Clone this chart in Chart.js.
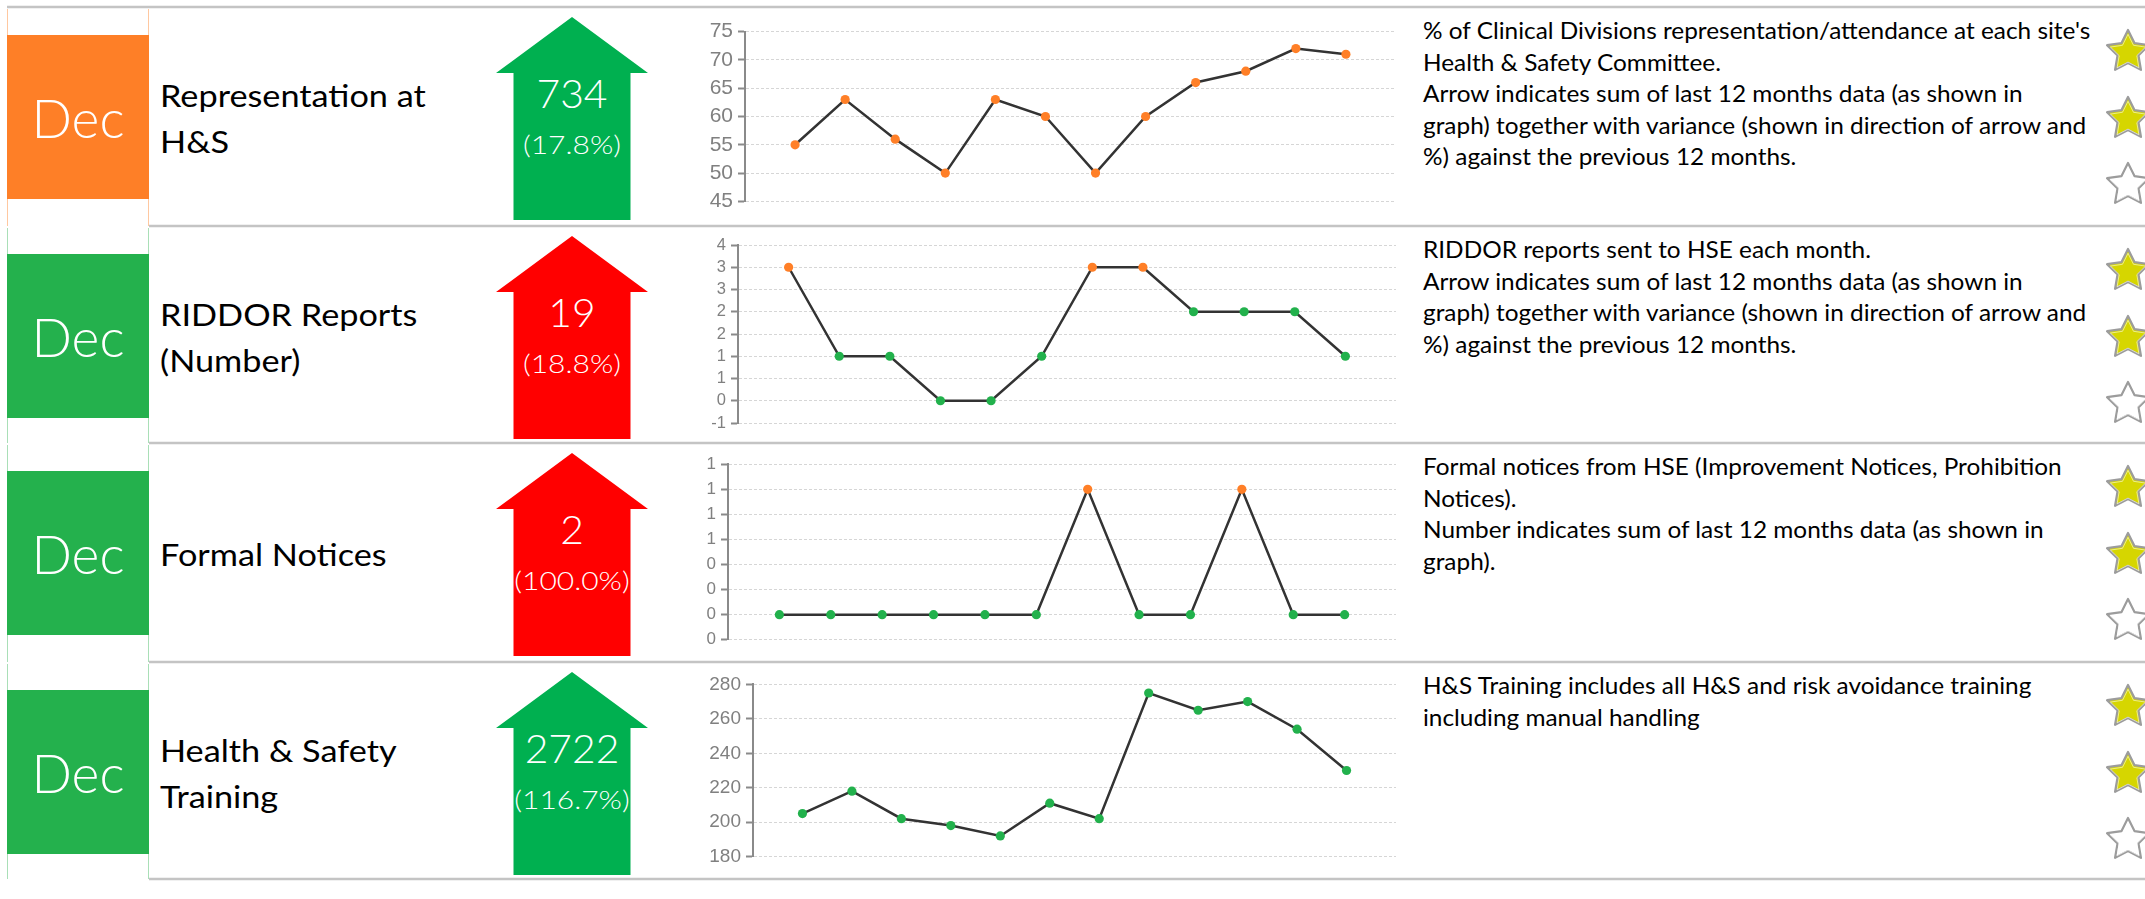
<!DOCTYPE html>
<html>
<head>
<meta charset="utf-8">
<title>H&amp;S KPI dashboard</title>
<script src="https://cdn.jsdelivr.net/npm/chart.js@4.4.1/dist/chart.umd.min.js"></script>
<style>
  html, body { margin: 0; padding: 0; background: #ffffff; }
  #board { position: relative; width: 2145px; height: 899px; overflow: hidden; background: #ffffff; }
  #board svg { position: absolute; left: 0; top: 0; }
  #board canvas { position: absolute; }
</style>
</head>
<body>
<div id="board"><svg id="deco" width="2145" height="899" xmlns="http://www.w3.org/2000/svg"></svg></div>
<script>
// ---------------- data ----------------
const months = ['Jan', 'Feb', 'Mar', 'Apr', 'May', 'Jun', 'Jul', 'Aug', 'Sep', 'Oct', 'Nov', 'Dec'];
const reportMonth = 'Dec';

const kpiTitles = [
  ['Representation at', 'H&S'],
  ['RIDDOR Reports', '(Number)'],
  ['Formal Notices'],
  ['Health & Safety', 'Training']
];

// monthly values, last 12 months
const representation = [55, 63, 56, 50, 63, 60, 50, 60, 66, 68, 72, 71];
const riddorReports  = [3, 1, 1, 0, 0, 1, 3, 3, 2, 2, 2, 1];
const formalNotices  = [0, 0, 0, 0, 0, 0, 1, 0, 0, 1, 0, 0];
const hsTraining     = [205, 218, 202, 198, 192, 211, 202, 275, 265, 270, 254, 230];

// variance of the 12-month total against the previous 12 months (%)
const variancePct = [17.8, 18.8, 100.0, 116.7];
const higherIsBetter = [true, false, false, true];
const monthStatus = ['amber', 'green', 'green', 'green'];
const starRatings = [2, 2, 2, 2];

// y axis ranges
const yMin  = [45, -0.5, -0.2, 180];
const yMax  = [75, 3.5, 1.2, 280];
const yStep = [5, 0.5, 0.2, 20];

const notes = [
  ["% of Clinical Divisions representation/attendance at each site's",
   'Health & Safety Committee.',
   'Arrow indicates sum of last 12 months data (as shown in',
   'graph) together with variance (shown in direction of arrow and',
   '%) against the previous 12 months.'],
  ['RIDDOR reports sent to HSE each month.',
   'Arrow indicates sum of last 12 months data (as shown in',
   'graph) together with variance (shown in direction of arrow and',
   '%) against the previous 12 months.'],
  ['Formal notices from HSE (Improvement Notices, Prohibition',
   'Notices).',
   'Number indicates sum of last 12 months data (as shown in',
   'graph).'],
  ['H&S Training includes all H&S and risk avoidance training',
   'including manual handling']
];

// ---------------- styling / layout ----------------
const series = [representation, riddorReports, formalNotices, hsTraining];
const amberRule = [v => true, v => v >= 3, v => v >= 1, v => false];

const COLORS = {
  amberBox: '#fe7f27', greenBox: '#24b14d',
  amberEdge: '#ffc8a0', greenEdge: '#a9dfb7',
  amberPt: '#ff7f27', greenPt: '#22b14c',
  arrowGood: '#00b050', arrowBad: '#ff0000',
  rule: '#c4c4c4', axis: '#8a8a8a', tickText: '#808080', grid: '#d6d6d6', line: '#333333',
  starFill: '#d6d600', starEdge: '#9c9c9c'
};

const rowLines = [7, 226, 443, 662, 879];
const plot = [
  { axisX: 745, top: 29,  bottom: 204, font: 'Liberation Sans', size: 21 },
  { axisX: 738, top: 245, bottom: 423, font: 'Liberation Sans', size: 16.5 },
  { axisX: 728, top: 464, bottom: 640, font: 'Liberation Sans', size: 17 },
  { axisX: 753, top: 683, bottom: 858, font: 'Liberation Sans', size: 19 }
];
const CHART_LEFT = 680, PLOT_RIGHT = 1396, PAD_V = 15, PAD_R = 10;

// ---------------- helpers ----------------
const svgNS = 'http://www.w3.org/2000/svg';
const deco = document.getElementById('deco');
function el(tag, attrs, text) {
  const e = document.createElementNS(svgNS, tag);
  for (const k in attrs) e.setAttribute(k, attrs[k]);
  if (text !== undefined) e.textContent = text;
  deco.appendChild(e);
  return e;
}
const mctx = document.createElement('canvas').getContext('2d');
function widthOf(text, font) { mctx.font = font; return mctx.measureText(text).width; }
function sum(a) { return a.reduce((s, v) => s + v, 0); }

// Lato is wider than the Calibri face the dashboard was built with; condense each text style
const FONT = 'Lato';
const kTitle = 266 / widthOf(kpiTitles[0][0], '31px ' + FONT);
const kNote  = 668 / widthOf(notes[0][0], '22.5px ' + FONT);
const kDec   = 93  / widthOf(reportMonth, '300 53px ' + FONT);
const kNum   = 71  / widthOf(String(sum(representation)), '300 39px ' + FONT);
const kPct   = 98  / widthOf('(' + variancePct[0].toFixed(1) + '%)', '300 25px ' + FONT);

function text(str, x, y, k, size, opts) {
  opts = opts || {};
  el('text', {
    transform: `translate(${x} ${y}) scale(${k} 1)`,
    'font-family': FONT, 'font-size': size, 'font-weight': opts.weight || 400,
    fill: opts.fill || '#000000', 'text-anchor': opts.anchor || 'start'
  }, str);
}

function starPoints(cx, cy, R, r) {
  const p = [];
  for (let i = 0; i < 10; i++) {
    const a = -Math.PI / 2 + i * Math.PI / 5;
    const rad = i % 2 ? r : R;
    p.push((cx + rad * Math.cos(a)).toFixed(2) + ',' + (cy + rad * Math.sin(a)).toFixed(2));
  }
  return p.join(' ');
}

function wholeNumber(v) {
  const n = Math.sign(v) * Math.round(Math.abs(v) + 1e-9);
  return String(n === 0 ? 0 : n);
}

function drawTrend(r) {
  const p = plot[r];
  const values = series[r];
  const cv = document.createElement('canvas');
  const w = PLOT_RIGHT + PAD_R - CHART_LEFT;
  const h = p.bottom - p.top + 2 * PAD_V;
  cv.width = w; cv.height = h;
  cv.style.left = CHART_LEFT + 'px';
  cv.style.top = (p.top - PAD_V) + 'px';
  cv.style.width = w + 'px';
  cv.style.height = h + 'px';
  document.getElementById('board').appendChild(cv);

  const ptColors = values.map(v => amberRule[r](v) ? COLORS.amberPt : COLORS.greenPt);

  new Chart(cv, {
    type: 'line',
    data: {
      datasets: [{
        label: kpiTitles[r].join(' '),
        data: values.map((v, i) => ({ x: i + 1, y: v, month: months[i] })),
        borderColor: COLORS.line,
        borderWidth: 2.5,
        tension: 0,
        pointRadius: 4.6,
        pointHoverRadius: 4.6,
        pointBorderWidth: 0,
        pointBackgroundColor: ptColors,
        pointBorderColor: ptColors
      }]
    },
    options: {
      responsive: false,
      animation: false,
      events: [],
      layout: { padding: { top: PAD_V, bottom: PAD_V, left: 0, right: PAD_R } },
      plugins: { legend: { display: false }, tooltip: { enabled: false } },
      scales: {
        x: { type: 'linear', min: 0, max: 13, display: false },
        y: {
          min: yMin[r], max: yMax[r],
          afterFit: s => { s.width = p.axisX - CHART_LEFT; },
          ticks: {
            stepSize: yStep[r],
            autoSkip: false,
            callback: wholeNumber,
            color: COLORS.tickText,
            padding: 5,
            font: { family: p.font, size: p.size }
          },
          grid: {
            color: COLORS.grid, lineWidth: 1,
            drawTicks: true, tickLength: 7, tickWidth: 2, tickColor: COLORS.axis, tickBorderDash: []
          },
          border: { display: true, color: COLORS.axis, width: 2, dash: [3, 2] }
        }
      }
    }
  });
}

// ---------------- frame ----------------
el('line', { x1: 7, y1: rowLines[0], x2: 2145, y2: rowLines[0], stroke: COLORS.rule, 'stroke-width': 2.5 });
for (let i = 1; i < rowLines.length; i++) {
  el('line', { x1: 149, y1: rowLines[i], x2: 2145, y2: rowLines[i], stroke: COLORS.rule, 'stroke-width': 2.5 });
}

// ---------------- rows ----------------
for (let r = 0; r < 4; r++) {
  const T = rowLines[r];
  const B = rowLines[r + 1];
  const amber = monthStatus[r] === 'amber';

  // month cell
  const edge = amber ? COLORS.amberEdge : COLORS.greenEdge;
  el('line', { x1: 7.5, y1: T + 2, x2: 7.5, y2: B, stroke: edge, 'stroke-width': 1 });
  el('line', { x1: 148.5, y1: T + 2, x2: 148.5, y2: B, stroke: edge, 'stroke-width': 1 });
  el('rect', { x: 7, y: T + 28, width: 142, height: 164, fill: amber ? COLORS.amberBox : COLORS.greenBox });
  text(reportMonth, 78, T + 131, kDec, 53, { weight: 300, fill: '#ffffff', anchor: 'middle' });

  // KPI title
  const lines = kpiTitles[r];
  const base = lines.length === 2 ? [T + 100, T + 146] : [T + 123];
  lines.forEach((s, i) => text(s, 160, base[i], kTitle, 31));

  // 12-month total arrow
  const up = variancePct[r] >= 0;
  const good = up === higherIsBetter[r];
  const cx = 572, tip = T + 10, neck = T + 66, foot = T + 213;
  const pts = up
    ? [[cx, tip], [cx + 76, neck], [cx + 58.5, neck], [cx + 58.5, foot], [cx - 58.5, foot], [cx - 58.5, neck], [cx - 76, neck]]
    : [[cx, foot], [cx + 76, foot - 56], [cx + 58.5, foot - 56], [cx + 58.5, tip], [cx - 58.5, tip], [cx - 58.5, foot - 56], [cx - 76, foot - 56]];
  el('polygon', { points: pts.map(p => p.join(',')).join(' '), fill: good ? COLORS.arrowGood : COLORS.arrowBad });
  text(String(sum(series[r])), cx, T + 101, kNum, 39, { weight: 300, fill: '#ffffff', anchor: 'middle' });
  text('(' + variancePct[r].toFixed(1) + '%)', cx, T + 147, kPct, 25, { weight: 300, fill: '#ffffff', anchor: 'middle' });

  // description
  notes[r].forEach((s, i) => text(s, 1423, T + 32 + i * 31.6, kNote, 22.5));

  // star rating
  [45, 112, 178].forEach((dy, i) => {
    const filled = i < starRatings[r];
    el('polygon', {
      points: starPoints(2128, T + dy, 22, 11), fill: filled ? COLORS.starFill : '#ffffff',
      stroke: COLORS.starEdge, 'stroke-width': 2.2, 'stroke-linejoin': 'round'
    });
    el('polygon', {
      points: starPoints(2128, T + dy + 0.8, 18.5, 9.3), fill: 'none',
      stroke: '#ffffff', 'stroke-opacity': 0.55, 'stroke-width': 1, 'stroke-linejoin': 'round'
    });
  });

  // trend chart
  drawTrend(r);
}
</script>
</body>
</html>
